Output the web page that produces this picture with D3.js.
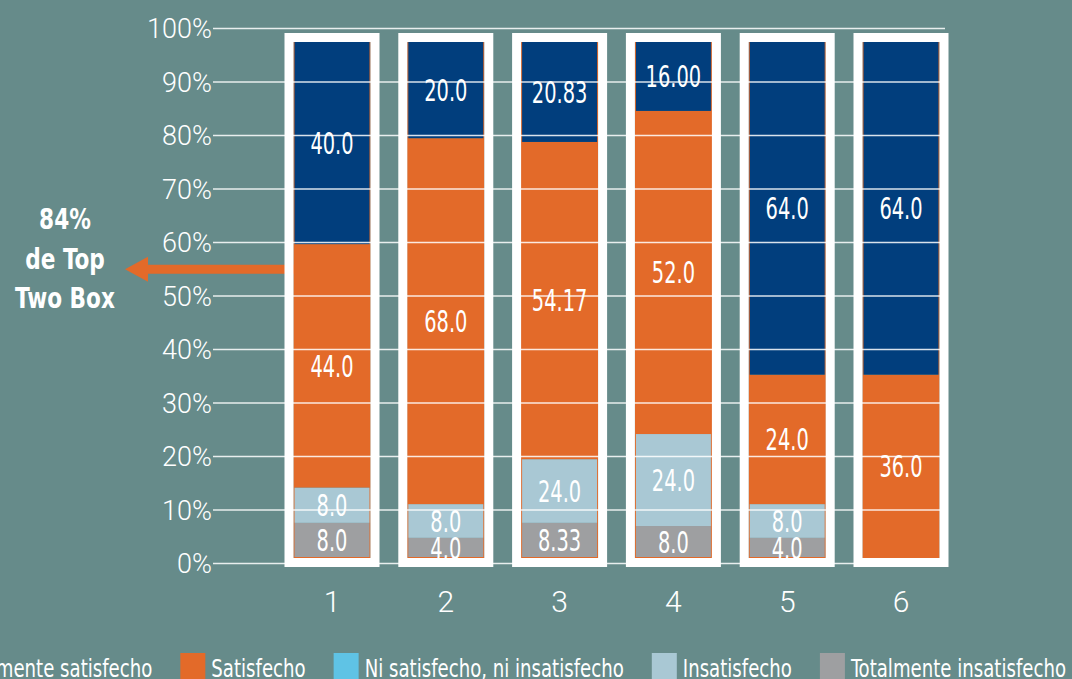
<!DOCTYPE html>
<html>
<head>
<meta charset="utf-8">
<script src="https://cdn.jsdelivr.net/npm/d3@7"></script>
<style>
  html, body { margin: 0; padding: 0; background: #668b8a; overflow: hidden; }
  svg { display: block; }
</style>
</head>
<body>
<div id="chart"></div>
<script>
// categories along the x axis
var categories = ["1", "2", "3", "4", "5", "6"];

// series, bottom of the stack first
var seriesNames = ["Totalmente insatisfecho", "Insatisfecho", "Ni satisfecho, ni insatisfecho", "Satisfecho", "Totalmente satisfecho"];
var legendOrder = ["Totalmente satisfecho", "Satisfecho", "Ni satisfecho, ni insatisfecho", "Insatisfecho", "Totalmente insatisfecho"];

// segment heights (%) as drawn in the picture
var totInsat = [7.6, 4.8, 7.6, 7.0, 4.8, 0];
var insat = [6.6, 6.3, 11.9, 17.2, 6.3, 0];
var ni = [0, 0, 0, 0, 0, 0];
var satisf = [45.5, 68.4, 59.3, 60.4, 24.2, 35.3];
var totSat = [40.3, 20.5, 21.2, 15.4, 64.7, 64.7];

// printed labels
var totInsatLabels = ["8.0", "4.0", "8.33", "8.0", "4.0", ""];
var insatLabels = ["8.0", "8.0", "24.0", "24.0", "8.0", ""];
var niLabels = ["", "", "", "", "", ""];
var satLabels = ["44.0", "68.0", "54.17", "52.0", "24.0", "36.0"];
var totSatLabels = ["40.0", "20.0", "20.83", "16.00", "64.0", "64.0"];

var yTicks = [0, 10, 20, 30, 40, 50, 60, 70, 80, 90, 100];

var annotation = ["84%", "de Top", "Two Box"];
var arrowAt = 55; // % level of the arrow

var colors = {
  "Totalmente satisfecho": "#013e7d",
  "Satisfecho": "#e36a29",
  "Ni satisfecho, ni insatisfecho": "#5fc3e5",
  "Insatisfecho": "#a9c8d4",
  "Totalmente insatisfecho": "#9e9fa1"
};

var width = 1072, height = 679;
var bg = "#668b8a";
var narrow = "'DejaVu Sans Condensed', 'DejaVu Sans', sans-serif";

var rows = categories.map(function (c, i) {
  return {
    cat: c,
    "Totalmente insatisfecho": totInsat[i],
    "Insatisfecho": insat[i],
    "Ni satisfecho, ni insatisfecho": ni[i],
    "Satisfecho": satisf[i],
    "Totalmente satisfecho": totSat[i]
  };
});
var labelsBySeries = {
  "Totalmente insatisfecho": totInsatLabels,
  "Insatisfecho": insatLabels,
  "Ni satisfecho, ni insatisfecho": niLabels,
  "Satisfecho": satLabels,
  "Totalmente satisfecho": totSatLabels
};

var svg = d3.select("#chart").append("svg")
  .attr("width", width)
  .attr("height", height);

svg.append("rect").attr("width", width).attr("height", height).attr("fill", bg);

var y = d3.scaleLinear().domain([0, 100]).range([563.5, 28.5]);
var x = d3.scalePoint().domain(categories).range([332, 901]);

var gridLeft = 213, gridRight = 945;
var frameHalf = 43, frameStroke = 9;
var innerHalf = frameHalf - frameStroke / 2;
var innerTop = y(100) + 9 + frameStroke / 2;
var innerBottom = y(0) - 1 - frameStroke / 2;

// visible range of the bars in data units
var visLo = y.invert(innerBottom), visHi = y.invert(innerTop);

var stack = d3.stack().keys(seriesNames);
var stacked = stack(rows);

var defs = svg.append("defs");
categories.forEach(function (c, i) {
  defs.append("clipPath").attr("id", "clip" + i)
    .append("rect")
    .attr("x", x(c) - innerHalf)
    .attr("y", innerTop)
    .attr("width", innerHalf * 2)
    .attr("height", innerBottom - innerTop);
});

// annotation arrow (under the frames)
var ay = y(arrowAt);
var arrow = svg.append("g").attr("fill", colors["Satisfecho"]);
arrow.append("rect")
  .attr("x", 145).attr("y", ay - 4.5)
  .attr("width", x(categories[0]) - 145).attr("height", 9);
arrow.append("path")
  .attr("d", "M125," + ay + "L148," + (ay - 12.5) + "L148," + (ay + 12.5) + "Z");

// bars
var barG = svg.append("g");
categories.forEach(function (c, i) {
  var g = barG.append("g").attr("clip-path", "url(#clip" + i + ")");
  stacked.forEach(function (s) {
    var d = s[i];
    if (d[1] - d[0] <= 0) return;
    g.append("rect")
      .attr("x", x(c) - innerHalf)
      .attr("width", innerHalf * 2)
      .attr("y", y(d[1]))
      .attr("height", y(d[0]) - y(d[1]))
      .attr("fill", colors[s.key]);
  });
  // thin orange edge
  barG.append("rect")
    .attr("x", x(c) - innerHalf + 0.5)
    .attr("y", innerTop - 0.5)
    .attr("width", innerHalf * 2 - 1)
    .attr("height", innerBottom - innerTop)
    .attr("fill", "none")
    .attr("stroke", colors["Satisfecho"])
    .attr("stroke-width", 1);
});

// white frames
svg.append("g").selectAll("rect")
  .data(categories)
  .enter().append("rect")
  .attr("x", function (d) { return x(d) - frameHalf; })
  .attr("y", y(100) + 9)
  .attr("width", frameHalf * 2)
  .attr("height", (y(0) - 1) - (y(100) + 9))
  .attr("fill", "none")
  .attr("stroke", "#ffffff")
  .attr("stroke-width", frameStroke);

// gridlines on top
svg.append("g").selectAll("line")
  .data(yTicks)
  .enter().append("line")
  .attr("x1", gridLeft).attr("x2", gridRight)
  .attr("y1", function (d) { return y(d); })
  .attr("y2", function (d) { return y(d); })
  .attr("stroke", "#ffffff")
  .attr("stroke-opacity", 0.85)
  .attr("stroke-width", 1.5);

// y tick labels
svg.append("g").selectAll("text")
  .data(yTicks)
  .enter().append("text")
  .attr("x", gridLeft - 1)
  .attr("y", function (d) { return y(d); })
  .attr("dy", "0.36em")
  .attr("text-anchor", "end")
  .attr("fill", "#ffffff")
  .style("font-family", "Roboto, sans-serif")
  .style("font-weight", 300)
  .style("font-size", "27px")
  .text(function (d) { return d + "%"; });

// x labels
svg.append("g").selectAll("text")
  .data(categories)
  .enter().append("text")
  .attr("x", function (d) { return x(d); })
  .attr("y", 612)
  .attr("text-anchor", "middle")
  .attr("fill", "#ffffff")
  .style("font-family", "Roboto, sans-serif")
  .style("font-weight", 300)
  .style("font-size", "30px")
  .text(function (d) { return d; });

// value labels
var lab = svg.append("g");
stacked.forEach(function (s) {
  s.forEach(function (d, i) {
    var t = labelsBySeries[s.key][i];
    if (!t) return;
    var lo = Math.max(d[0], visLo), hi = Math.min(d[1], visHi);
    var cy = y((lo + hi) / 2);
    lab.append("text")
      .attr("transform", "translate(" + x(categories[i]) + "," + cy + ") scale(0.72,1)")
      .attr("dy", "0.36em")
      .attr("text-anchor", "middle")
      .attr("fill", "#ffffff")
      .style("font-family", narrow)
      .style("font-weight", 500)
      .style("font-size", "30px")
      .text(t);
  });
});

// annotation text
svg.append("g").selectAll("text")
  .data(annotation)
  .enter().append("text")
  .attr("transform", function (d, i) {
    return "translate(65," + (ay - 40 + i * 39.5) + ") scale(0.86,1)";
  })
  .attr("text-anchor", "middle")
  .attr("fill", "#ffffff")
  .style("font-family", narrow)
  .style("font-weight", "bold")
  .style("font-size", "28px")
  .text(function (d) { return d; });

// legend, right end anchored
var legend = svg.append("g");
var sq = 25, textGap = 31, itemGap = 28, legY = 653, legScale = 0.84;
var cursor = 0;
legendOrder.forEach(function (name) {
  var g = legend.append("g");
  g.append("rect")
    .attr("y", legY).attr("width", sq).attr("height", 26)
    .attr("fill", colors[name]);
  var t = g.append("text")
    .attr("transform", "translate(" + textGap + ",677) scale(" + legScale + ",1)")
    .attr("fill", "#ffffff")
    .style("font-family", narrow)
    .style("font-size", "24px")
    .text(name);
  var w = t.node().getComputedTextLength() * legScale;
  g.attr("transform", "translate(" + cursor + ",0)");
  cursor += textGap + w + itemGap;
});
var total = cursor - itemGap;
legend.attr("transform", "translate(" + (1066 - total) + ",0)");
</script>
</body>
</html>
